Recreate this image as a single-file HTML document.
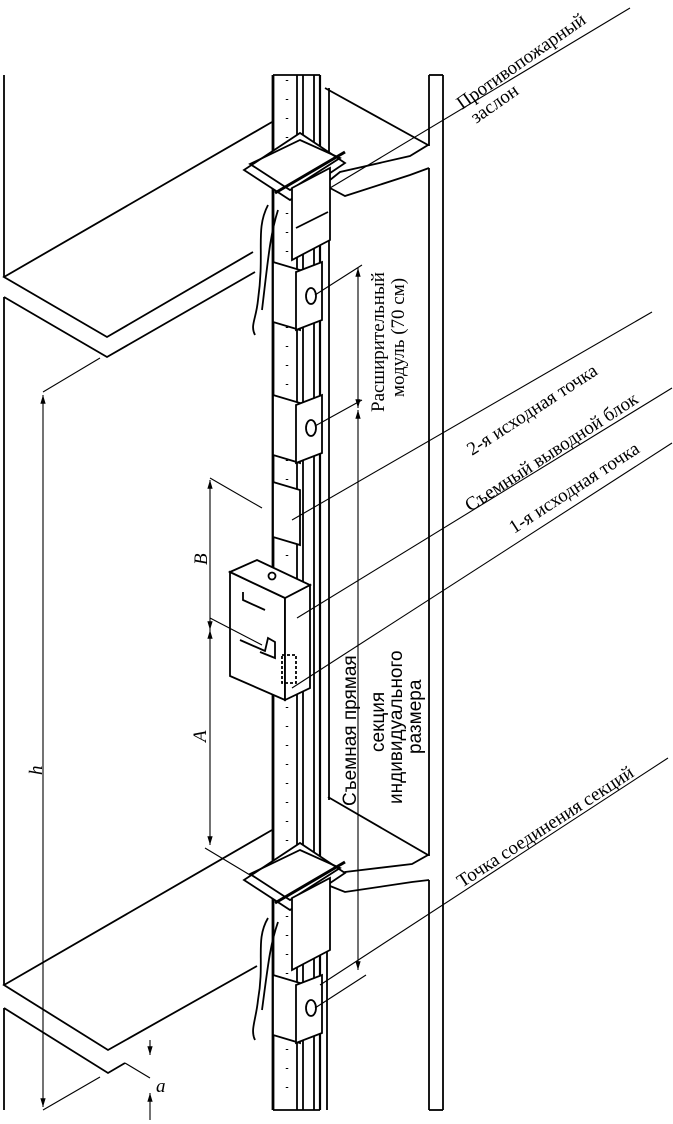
<!DOCTYPE html>
<html><head><meta charset="utf-8"><style>
html,body{margin:0;padding:0;background:#fff;}
svg{display:block}
text{font-family:"Liberation Serif",serif;fill:#000}
.s{font-family:"Liberation Sans",sans-serif}
</style></head><body>
<svg width="673" height="1124" viewBox="0 0 673 1124" xmlns="http://www.w3.org/2000/svg">
<defs>
<marker id="ar" viewBox="0 0 10 10" refX="10" refY="5" markerWidth="8" markerHeight="8" orient="auto-start-reverse"><path d="M0,2 L10,5 L0,8 z" fill="#000"/></marker>
</defs>
<g stroke="#000" fill="none" stroke-width="1.8">
<line x1="4" y1="75" x2="4" y2="277"/>
<line x1="4" y1="297" x2="4" y2="985"/>
<line x1="4" y1="1008" x2="4" y2="1110"/>
<polyline points="272,122 4,277 107,337 253,252"/>
<polyline points="4,297 107,357 255,272"/>
<polyline points="272,830 4,985 108,1050 257,966"/>
<polyline points="4,1008 108,1073 125,1063"/>
<line x1="429" y1="75" x2="429" y2="146"/>
<line x1="429" y1="168" x2="429" y2="856"/>
<line x1="429" y1="880" x2="429" y2="1110"/>
<line x1="443" y1="75" x2="443" y2="1110"/>
<line x1="429" y1="75" x2="443" y2="75"/>
<line x1="429" y1="1110" x2="443" y2="1110"/>
<polyline points="325,88 428,145 410,156 340,172 330,180"/>
<polyline points="330,188 345,196 410,175 429,168"/>
<polyline points="328,797 428,855 412,864 345,872 330,878"/>
<polyline points="330,886 345,892 412,882 429,880"/>
<line x1="329" y1="88" x2="329" y2="800"/>
<line x1="327" y1="890" x2="327" y2="1110"/>
<line x1="273" y1="75" x2="273" y2="1110" stroke-width="2.8"/>
<line x1="297" y1="75" x2="297" y2="1110"/>
<line x1="303" y1="75" x2="303" y2="1110"/>
<line x1="314" y1="75" x2="314" y2="1110"/>
<line x1="320" y1="75" x2="320" y2="1110" stroke-width="2.2"/>
<line x1="273" y1="75" x2="320" y2="75"/>
<line x1="273" y1="1110" x2="320" y2="1110"/>
<line x1="287" y1="80" x2="287" y2="1105" stroke-dasharray="1 18" stroke-width="2.5"/>
<polygon points="244,170 290,200 345,163 300,133" fill="#fff"/>
<polygon points="250,164 290,190 340,158 300,140" />
<line x1="275" y1="193" x2="345" y2="152" stroke-width="3"/>
<polygon points="292,188 330,168 330,240 292,260" fill="#fff"/>
<line x1="296" y1="228" x2="328" y2="212"/>
<polygon points="244,880 290,910 345,873 300,843" fill="#fff"/>
<polygon points="250,874 290,900 340,868 300,850" />
<line x1="275" y1="903" x2="345" y2="862" stroke-width="3"/>
<polygon points="292,898 330,878 330,950 292,970" fill="#fff"/>
<path d="M268,205 C255,230 265,250 258,300 C256,320 250,325 255,335"/>
<path d="M278,210 C270,235 268,260 262,310"/>
<path d="M268,918 C255,940 265,960 258,1000 C256,1020 250,1030 255,1040"/>
<path d="M278,922 C270,945 268,965 262,1010"/>
<polygon points="273,262 300,270 300,330 273,322" fill="#fff"/>
<polygon points="296,272 322,262 322,320 296,330" fill="#fff"/>
<ellipse cx="311" cy="296" rx="5" ry="8"/>
<polygon points="273,395 300,403 300,463 273,455" fill="#fff"/>
<polygon points="296,405 322,395 322,453 296,463" fill="#fff"/>
<ellipse cx="311" cy="428" rx="5" ry="8"/>
<polygon points="273,482 300,490 300,545 273,537" fill="#fff"/>
<polygon points="273,975 300,983 300,1043 273,1035" fill="#fff"/>
<polygon points="296,985 322,975 322,1033 296,1043" fill="#fff"/>
<ellipse cx="311" cy="1008" rx="5" ry="8"/>
<polygon points="230,572 285,598 285,700 230,676" fill="#fff"/>
<polygon points="285,598 310,585 310,688 285,700" fill="#fff"/>
<polygon points="230,572 257,560 310,585 285,598" fill="#fff"/>
<circle cx="272" cy="576" r="3.5"/>
<path d="M243,592 L243,600 L265,610"/>
<path d="M240,640 L265,651 L268,638 L275,642 L275,658 L260,652"/>
<rect x="282" y="655" width="14" height="28" stroke-dasharray="3 2"/>
<g stroke-width="1.1">
<line x1="43" y1="395" x2="43" y2="1107" marker-start="url(#ar)" marker-end="url(#ar)"/>
<line x1="43" y1="392" x2="100" y2="358"/>
<line x1="43" y1="1110" x2="100" y2="1077"/>
<line x1="210" y1="480" x2="210" y2="630" marker-start="url(#ar)" marker-end="url(#ar)"/>
<line x1="210" y1="630" x2="210" y2="845" marker-start="url(#ar)" marker-end="url(#ar)"/>
<line x1="210" y1="478" x2="262" y2="508"/>
<line x1="210" y1="618" x2="262" y2="645"/>
<line x1="205" y1="848" x2="250" y2="875"/>
<line x1="358" y1="268" x2="358" y2="408" marker-start="url(#ar)" marker-end="url(#ar)"/>
<line x1="358" y1="410" x2="358" y2="970" marker-start="url(#ar)" marker-end="url(#ar)"/>
<line x1="315" y1="295" x2="362" y2="265"/>
<line x1="315" y1="426" x2="362" y2="400"/>
<line x1="315" y1="1008" x2="366" y2="975"/>
<line x1="150" y1="1040" x2="150" y2="1055" marker-end="url(#ar)"/>
<line x1="150" y1="1120" x2="150" y2="1093" marker-end="url(#ar)"/>
<line x1="125" y1="1063" x2="150" y2="1078"/>
<line x1="630" y1="8" x2="330" y2="188"/>
<line x1="652" y1="312" x2="292" y2="520"/>
<line x1="672" y1="388" x2="297" y2="618"/>
<line x1="672" y1="443" x2="292" y2="688"/>
<line x1="668" y1="758" x2="320" y2="985"/>
</g>
</g>
<g font-size="19">
<text transform="translate(462,110) rotate(-35)">Противопожарный</text>
<text transform="translate(476,124) rotate(-35)">заслон</text>
<text transform="translate(384,412) rotate(-90)">Расширительный</text>
<text transform="translate(404,397) rotate(-90)">модуль (70 см)</text>
<text transform="translate(472,456) rotate(-33)">2-я исходная точка</text>
<text transform="translate(470,512) rotate(-33)">Съемный выводной блок</text>
<text transform="translate(514,534) rotate(-33)">1-я исходная точка</text>
<text class="s" transform="translate(356,806) rotate(-90)" font-size="19">Съемная прямая</text>
<text class="s" transform="translate(384,752) rotate(-90)" font-size="19">секция</text>
<text class="s" transform="translate(402,804) rotate(-90)" font-size="19">индивидуального</text>
<text class="s" transform="translate(421,754) rotate(-90)" font-size="19">размера</text>
<text transform="translate(462,888) rotate(-33)">Точка соединения секций</text>
<text transform="translate(42,775) rotate(-90)" font-style="italic">h</text>
<text transform="translate(207,565) rotate(-90)" font-style="italic">B</text>
<text transform="translate(206,742) rotate(-90)" font-style="italic">A</text>
<text x="156" y="1092" font-style="italic">a</text>
</g>
</svg>
</body></html>
